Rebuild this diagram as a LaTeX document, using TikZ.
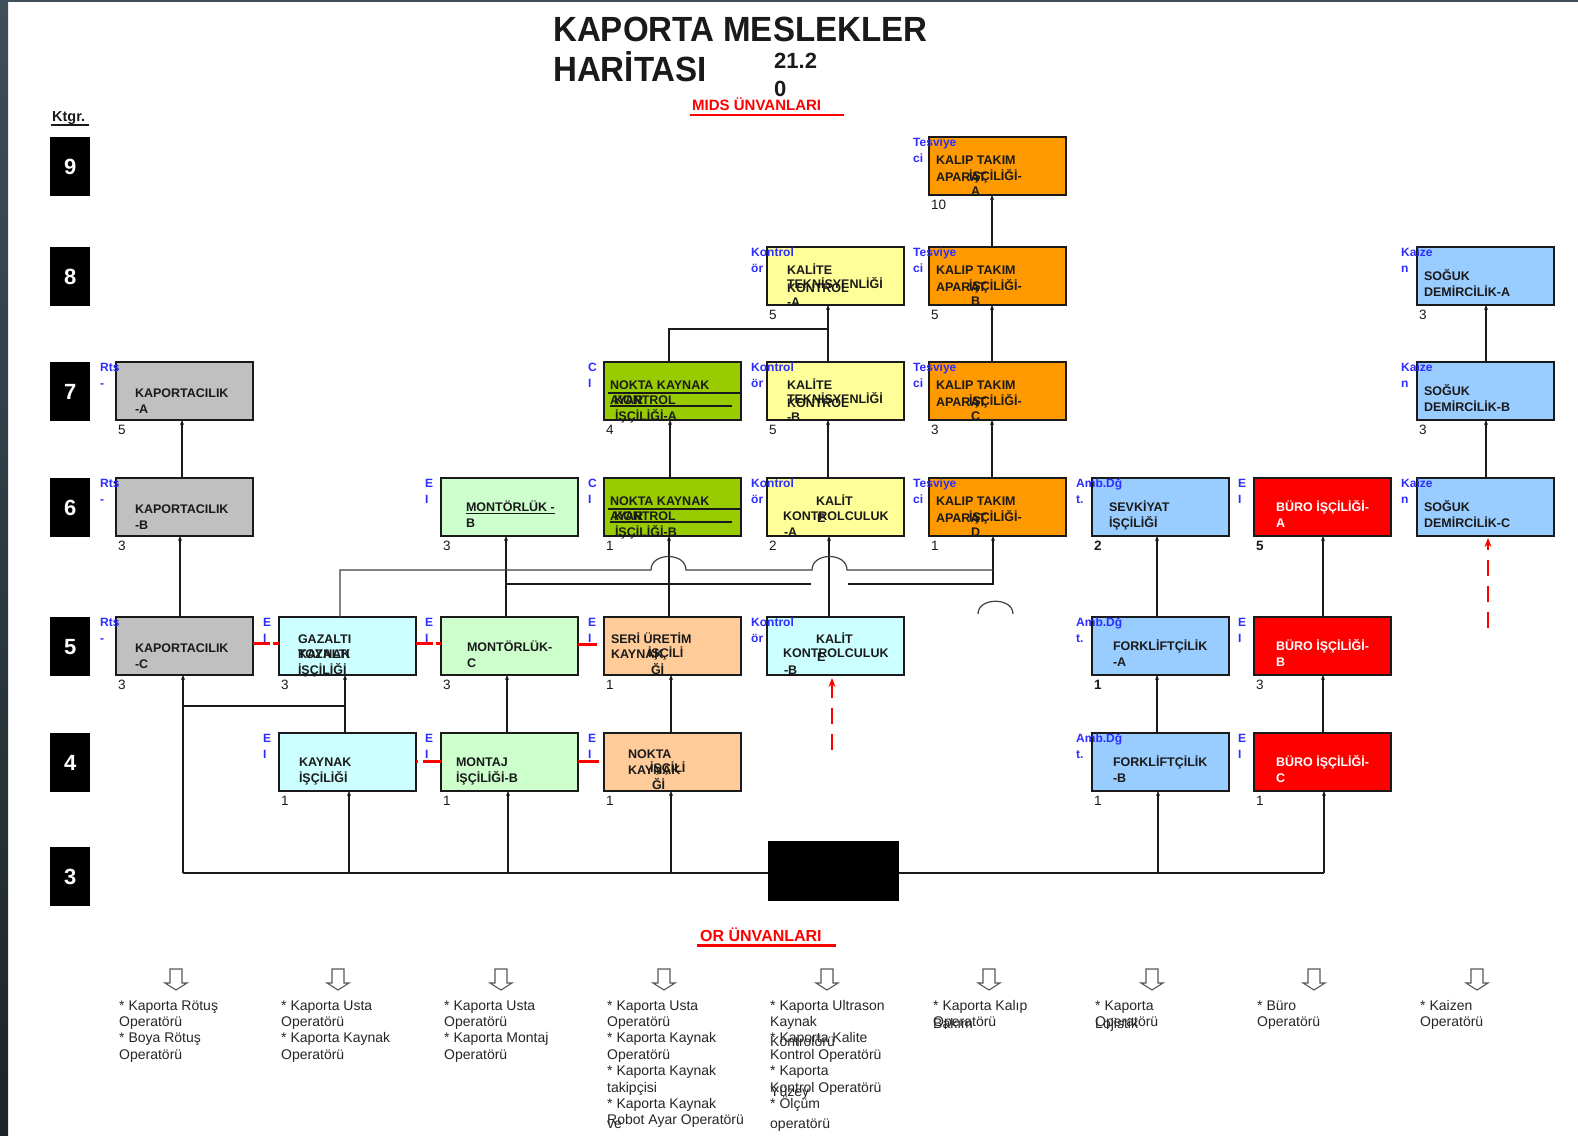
\documentclass[tikz,border=0pt]{standalone}
\usepackage{fontspec}
\usepackage{graphicx}
\setmainfont{Liberation Sans}
\usetikzlibrary{calc,arrows.meta}
\definecolor{cgray}{HTML}{C0C0C0}
\definecolor{ccyan}{HTML}{CCFFFF}
\definecolor{clgreen}{HTML}{CCFFCC}
\definecolor{cgreen}{HTML}{99CC00}
\definecolor{cpeach}{HTML}{FFCC99}
\definecolor{cyellow}{HTML}{FFFF99}
\definecolor{corange}{HTML}{FF9900}
\definecolor{cblue}{HTML}{99CCFF}
\definecolor{cred}{HTML}{FF0000}
\definecolor{lblue}{RGB}{45,45,255}
\definecolor{ink}{HTML}{1A1A1A}
\definecolor{frameA}{HTML}{3E4F5A}
\definecolor{frameB}{HTML}{1C2429}
\tikzset{
 box/.style={draw=ink, line width=1.5pt, minimum width=137pt, minimum height=58pt, inner sep=0pt, outer sep=0pt, anchor=north west},
 bt/.style={anchor=base west, inner sep=0pt, outer sep=0pt, font=\fontsize{12.5}{14}\selectfont\bfseries, text=ink},
 lb/.style={anchor=base west, inner sep=0pt, font=\fontsize{12}{13}\selectfont\bfseries, text=lblue},
 num/.style={anchor=base west, inner sep=0pt, font=\fontsize{13.5}{14}\selectfont, text=ink},
 conn/.style={draw=ink, line width=1.3pt},
 conntwo/.style={draw=black!75, line width=1.2pt},
 arr/.style={conn, -{Stealth[length=5pt,width=4pt]}},
 ulin/.style={draw=ink, line width=1.1pt},
 redln/.style={draw=red, line width=3pt},
 reddash/.style={draw=red, line width=2.8pt, dash pattern=on 16pt off 10pt, -{Stealth[length=9pt,width=7pt]}},
 cat/.style={fill=black, minimum width=40pt, minimum height=59pt, inner sep=0pt, anchor=north west, text=white, font=\fontsize{22}{24}\selectfont\bfseries},
 ot/.style={anchor=base west, inner sep=0pt, font=\fontsize{14}{16}\selectfont, text=black!85},
 hollowdown/.pic={\draw[draw=black!65, line width=1.1pt, fill=white] (-6,0) -- (-6,14) -- (-11,14) -- (0,21) -- (11,14) -- (6,14) -- (6,0) -- cycle;},
}
\newcounter{tbn}
\newcommand\tb[4][]{\stepcounter{tbn}\node[bt,#1] (tb\arabic{tbn}) at ($(#2.north west)+(#3)$) {#4};}
\newcommand\BX[7]{%
 \node[box,fill=#4] (#1) at (#2,#3) {};
 \node[lb] (#1la) at ($(#1.north west)+(-16,9.5)$) {#5};
 \node[lb] (#1lb) at ($(#1.north west)+(-16,25.5)$) {#6};
 \node[num] (#1nm) at ($(#1.south west)+(2,14.5)$) {#7};}
\newcounter{otn}
\newcommand\otl[3]{\stepcounter{otn}\node[ot] (ot\arabic{otn}) at ({#1},{1010+16.4*(#2-1)}) {#3};}
\begin{document}
\begin{tikzpicture}[x=1pt,y=-1pt]
\fill[white] (0,0) rectangle (1578,1135);
\useasboundingbox (0,0) rectangle (1578,1135);
\shade[top color=frameA, bottom color=frameB] (0,0) rectangle (8,1135);
\fill[frameA] (0,0) rectangle (1578,2);

% title
\node[anchor=base west, inner sep=0pt, font=\fontsize{35}{38}\selectfont\bfseries, text=ink] (title1) at (553,41) {\scalebox{0.945}[1]{KAPORTA MESLEKLER}};
\node[anchor=base west, inner sep=0pt, font=\fontsize{35}{38}\selectfont\bfseries, text=ink] (title2) at (553,81) {\scalebox{0.945}[1]{HARİTASI}};
\node[anchor=base west, inner sep=0pt, font=\fontsize{22}{24}\selectfont\bfseries, text=ink] (date1) at (774,68.5) {21.2};
\node[anchor=base west, inner sep=0pt, font=\fontsize{22}{24}\selectfont\bfseries, text=ink] (date2) at (774,96.5) {0};
\node[anchor=base west, inner sep=0pt, font=\fontsize{15}{16}\selectfont\bfseries, text=red] (mids) at (692,110) {MIDS ÜNVANLARI};
\draw[red, line width=2.5pt] ($(mids.base west)+(-2,5)$) -- ($(mids.base west)+(152,5)$);
\node[anchor=base west, inner sep=0pt, font=\fontsize{14.5}{16}\selectfont\bfseries, text=ink] (ktgr) at (52,121) {Ktgr.};
\draw[ink, line width=1.3pt] ($(ktgr.base west)+(-1,4)$) -- ($(ktgr.base west)+(37,4)$);

% category boxes
\node[cat] (k9) at (50,137) {9};
\node[cat] (k8) at (50,247) {8};
\node[cat] (k7) at (50,362) {7};
\node[cat] (k6) at (50,478) {6};
\node[cat] (k5) at (50,617) {5};
\node[cat] (k4) at (50,733) {4};
\node[cat] (k3) at (50,847) {3};

% boxes
\BX{kapA}{116}{362}{cgray}{Rts}{-}{5}
\BX{kapB}{116}{478}{cgray}{Rts}{-}{3}
\BX{kapC}{116}{617}{cgray}{Rts}{-}{3}
\BX{gaz}{279}{617}{ccyan}{E}{I}{3}
\BX{kayn}{279}{733}{ccyan}{E}{I}{1}
\BX{monB}{441}{478}{clgreen}{E}{I}{3}
\BX{monC}{441}{617}{clgreen}{E}{I}{3}
\BX{mtj}{441}{733}{clgreen}{E}{I}{1}
\BX{nkA}{604}{362}{cgreen}{C}{I}{4}
\BX{nkB}{604}{478}{cgreen}{C}{I}{1}
\BX{seri}{604}{617}{cpeach}{E}{I}{1}
\BX{nkk}{604}{733}{cpeach}{E}{I}{1}
\BX{ktA}{767}{247}{cyellow}{Kontrol}{ör}{5}
\BX{ktB}{767}{362}{cyellow}{Kontrol}{ör}{5}
\BX{kkA}{767}{478}{cyellow}{Kontrol}{ör}{2}
\BX{kkB}{767}{617}{ccyan}{Kontrol}{ör}{}
\BX{kpA}{929}{137}{corange}{Tesviye}{ci}{10}
\BX{kpB}{929}{247}{corange}{Tesviye}{ci}{5}
\BX{kpC}{929}{362}{corange}{Tesviye}{ci}{3}
\BX{kpD}{929}{478}{corange}{Tesviye}{ci}{1}
\BX{sev}{1092}{478}{cblue}{Amb.Dğ}{t.}{\bfseries 2}
\BX{frA}{1092}{617}{cblue}{Amb.Dğ}{t.}{\bfseries 1}
\BX{frB}{1092}{733}{cblue}{Amb.Dğ}{t.}{1}
\BX{brA}{1254}{478}{cred}{E}{I}{\bfseries 5}
\BX{brB}{1254}{617}{cred}{E}{I}{3}
\BX{brC}{1254}{733}{cred}{E}{I}{1}
\BX{sgA}{1417}{247}{cblue}{Kaize}{n}{3}
\BX{sgB}{1417}{362}{cblue}{Kaize}{n}{3}
\BX{sgC}{1417}{478}{cblue}{Kaize}{n}{}

% box texts
\tb{kapA}{19,35.5}{KAPORTACILIK}\tb{kapA}{19,51.5}{-A}
\tb{kapB}{19,35.5}{KAPORTACILIK}\tb{kapB}{19,51.5}{-B}
\tb{kapC}{19,35.5}{KAPORTACILIK}\tb{kapC}{19,51.5}{-C}
\tb{gaz}{19,26.5}{GAZALTI}\tb{gaz}{19,41.5}{TOZALTI}\tb{gaz}{19,41.5}{KAYNAK}\tb{gaz}{19,57.5}{İŞÇİLİĞİ}
\tb{kayn}{20,33.5}{KAYNAK}\tb{kayn}{20,49.5}{İŞÇİLİĞİ}
\tb{monB}{25,33.5}{\underline{MONTÖRLÜK -}}\tb{monB}{25,49.5}{B}
\tb{monC}{26,34.5}{MONTÖRLÜK-}\tb{monC}{26,50.5}{C}
\tb{mtj}{15,33.5}{MONTAJ}\tb{mtj}{15,49.5}{İŞÇİLİĞİ-B}
\tb{nkA}{6,27.5}{NOKTA KAYNAK}\tb{nkA}{6,42.5}{AYAR}\tb{nkA}{10,42.5}{KONTROL}\tb{nkA}{11,58.5}{İŞÇİLİĞİ-A}
\draw[ulin] ($(nkA.north west)+(4,31)$) -- ($(nkA.north east)+(-1,31)$);
\draw[ulin] ($(nkA.north west)+(6,44)$) -- ($(nkA.north west)+(128,44)$);
\tb{nkB}{6,27.5}{NOKTA KAYNAK}\tb{nkB}{6,42.5}{AYAR}\tb{nkB}{10,42.5}{KONTROL}\tb{nkB}{11,58.5}{İŞÇİLİĞİ-B}
\draw[ulin] ($(nkB.north west)+(4,31)$) -- ($(nkB.north east)+(-1,31)$);
\draw[ulin] ($(nkB.north west)+(6,44)$) -- ($(nkB.north west)+(128,44)$);
\tb{seri}{7,26.5}{SERİ ÜRETİM}\tb{seri}{7,41.5}{KAYNAK}\tb{seri}{44,40.5}{İŞÇİLİ}\tb{seri}{47,57.5}{Ğİ}
\tb{nkk}{24,25.5}{NOKTA}\tb{nkk}{24,41.5}{KAYNAK}\tb{nkk}{46,39.5}{İŞÇİLİ}\tb{nkk}{48,56.5}{Ğİ}
\tb{ktA}{20,27.5}{KALİTE}\tb{ktA}{20,41.5}{TEKNİSYENLİĞİ}\tb{ktA}{20,45.5}{KONTROL}\tb{ktA}{20,59.5}{-A}
\tb{ktB}{20,27.5}{KALİTE}\tb{ktB}{20,41.5}{TEKNİSYENLİĞİ}\tb{ktB}{20,45.5}{KONTROL}\tb{ktB}{20,59.5}{-B}
\tb{kkA}{49,27.5}{KALİT}\tb{kkA}{16,42.5}{KONTROLCULUK}\tb{kkA}{50,44.5}{E}\tb{kkA}{17,58.5}{-A}
\tb{kkB}{49,26.5}{KALİT}\tb{kkB}{16,40.5}{KONTROLCULUK}\tb{kkB}{50,44.5}{E}\tb{kkB}{17,57.5}{-B}
\tb{kpA}{7,27.5}{KALIP TAKIM}\tb{kpA}{7,44.5}{APARAT}\tb{kpA}{40,43}{İŞÇİLİĞİ-}\tb{kpA}{42,58.5}{A}
\tb{kpB}{7,27.5}{KALIP TAKIM}\tb{kpB}{7,44.5}{APARAT}\tb{kpB}{40,43}{İŞÇİLİĞİ-}\tb{kpB}{42,58.5}{B}
\tb{kpC}{7,27.5}{KALIP TAKIM}\tb{kpC}{7,44.5}{APARAT}\tb{kpC}{40,43}{İŞÇİLİĞİ-}\tb{kpC}{42,58.5}{C}
\tb{kpD}{7,27.5}{KALIP TAKIM}\tb{kpD}{7,44.5}{APARAT}\tb{kpD}{40,43}{İŞÇİLİĞİ-}\tb{kpD}{42,58.5}{D}
\tb{sev}{17,33.5}{SEVKİYAT}\tb{sev}{17,49.5}{İŞÇİLİĞİ}
\tb{frA}{21,33.5}{FORKLİFTÇİLİK}\tb{frA}{21,49.5}{-A}
\tb{frB}{21,33.5}{FORKLİFTÇİLİK}\tb{frB}{21,49.5}{-B}
\tb[text=white]{brA}{22,33.5}{BÜRO İŞÇİLİĞİ-}\tb[text=white]{brA}{22,49.5}{A}
\tb[text=white]{brB}{22,33.5}{BÜRO İŞÇİLİĞİ-}\tb[text=white]{brB}{22,49.5}{B}
\tb[text=white]{brC}{22,33.5}{BÜRO İŞÇİLİĞİ-}\tb[text=white]{brC}{22,49.5}{C}
\tb{sgA}{7,33.5}{SOĞUK}\tb{sgA}{7,49.5}{DEMİRCİLİK-A}
\tb{sgB}{7,33.5}{SOĞUK}\tb{sgB}{7,49.5}{DEMİRCİLİK-B}
\tb{sgC}{7,33.5}{SOĞUK}\tb{sgC}{7,49.5}{DEMİRCİLİK-C}

% bus and black block
\coordinate (busL) at (183,873);
\coordinate (busR) at (1324,873);
\draw[conn] (busL) -- (busR);
\node[fill=black, minimum width=131pt, minimum height=60pt, inner sep=0pt, anchor=north west] (blk) at (768,841) {};

% connectors, left part
\draw[arr] ($(kapC.north west)+(64,0)$) -- ($(kapB.south west)+(64,0)$);
\draw[arr] ($(kapB.north west)+(66,0)$) -- ($(kapA.south west)+(66,0)$);
\draw[arr] (busL) -- ($(kapC.south west)+(67,0)$);
\draw[conn] ($(kapC.south west)+(67,31)$) -- ($(gaz.south west)+(66,31)$);
\draw[arr] ($(kayn.north west)+(66,0)$) -- ($(gaz.south west)+(66,0)$);
\draw[arr] ($(kayn.south west)+(70,82)$) -- ($(kayn.south west)+(70,0)$);
\draw[arr] ($(mtj.south west)+(67,82)$) -- ($(mtj.south west)+(67,0)$);
\draw[arr] ($(nkk.south west)+(67,82)$) -- ($(nkk.south west)+(67,0)$);
\draw[arr] ($(frB.south west)+(66,82)$) -- ($(frB.south west)+(66,0)$);
\draw[arr] (busR) -- ($(brC.south west)+(70,0)$);
\draw[arr] ($(mtj.north west)+(66,0)$) -- ($(monC.south west)+(66,0)$);
\draw[arr] ($(monC.north west)+(65,0)$) -- ($(monB.south west)+(65,0)$);
\draw[arr] ($(nkk.north west)+(67,0)$) -- ($(seri.south west)+(67,0)$);
\draw[arr] ($(seri.north west)+(65,0)$) -- ($(nkB.south west)+(65,0)$);
\draw[arr] ($(nkB.north west)+(66,0)$) -- ($(nkA.south west)+(66,0)$);
\draw[conn] ($(nkA.north west)+(65,0)$) |- ($(ktB.north west)+(61,-33)$);
\draw[arr] ($(ktB.north west)+(61,0)$) -- ($(ktA.south west)+(61,0)$);
\draw[arr] ($(kkA.north west)+(61,0)$) -- ($(ktB.south west)+(61,0)$);
\draw[arr] ($(kkB.north west)+(62,0)$) -- ($(kkA.south west)+(62,0)$);
\draw[arr] ($(kpD.north west)+(63,0)$) -- ($(kpC.south west)+(63,0)$);
\draw[arr] ($(kpC.north west)+(63,0)$) -- ($(kpB.south west)+(63,0)$);
\draw[arr] ($(kpB.north west)+(63,0)$) -- ($(kpA.south west)+(63,0)$);
% long lines to KALIP-D
\draw[conn] ($(monC.north west)+(65,-33)$) -- ($(kkB.north west)+(44,-33)$);
\draw[arr] ($(kkB.north west)+(81,-33)$) -| ($(kpD.south west)+(64,0)$);
\draw[conntwo] ($(gaz.north west)+(61,0)$) -- (340,570) -- (651,570) .. controls (651,552) and (686,552) .. (686,570) -- (812,570) .. controls (812,552) and (847,552) .. (847,570) -- (993,570);
\draw[conntwo] (978,614) .. controls (978,597) and (1013,597) .. (1013,614);
% right part
\draw[arr] ($(frB.north west)+(65,0)$) -- ($(frA.south west)+(65,0)$);
\draw[arr] ($(frA.north west)+(65,0)$) -- ($(sev.south west)+(65,0)$);
\draw[arr] ($(brC.north west)+(69,0)$) -- ($(brB.south west)+(69,0)$);
\draw[arr] ($(brB.north west)+(69,0)$) -- ($(brA.south west)+(69,0)$);
\draw[arr] ($(sgC.north west)+(69,0)$) -- ($(sgB.south west)+(69,0)$);
\draw[arr] ($(sgB.north west)+(69,0)$) -- ($(sgA.south west)+(69,0)$);

% red links
\draw[redln, dash pattern=on 17pt off 3pt] ($(kapC.north east)+(0,26)$) -- ($(gaz.north west)+(0,26)$);
\draw[redln, dash pattern=on 17pt off 3pt] ($(gaz.north east)+(0,26)$) -- ($(monC.north west)+(0,26)$);
\draw[redln] ($(monC.north east)+(0,27)$) -- ($(seri.north west)+(-7,27)$);
\draw[redln, dash pattern=on 2pt off 5pt on 20pt off 0pt] ($(kayn.north east)+(0,28)$) -- ($(mtj.north west)+(0,28)$);
\draw[redln] ($(mtj.north east)+(0,28)$) -- ($(nkk.north west)+(-5,28)$);
\coordinate (rdA) at (1488,628);
\coordinate (rdB) at (832,750);
\draw[reddash] (rdA) -- ($(sgC.south west)+(71,2)$);
\draw[reddash] (rdB) -- ($(kkB.south west)+(65,3)$);

% OR titles
\node[anchor=base west, inner sep=0pt, font=\fontsize{16}{18}\selectfont\bfseries, text=red] (orun) at (700,941) {OR ÜNVANLARI};
\draw[red, line width=2.5pt] ($(orun.base west)+(-3,4.5)$) -- ($(orun.base west)+(136,4.5)$);

\foreach \cx in {176,338,501,664,827,989,1152,1314,1477} \pic at (\cx,969) {hollowdown};

\otl{119}{1}{* Kaporta Rötuş}\otl{119}{2}{Operatörü}\otl{119}{3}{* Boya Rötuş}\otl{119}{4}{Operatörü}
\otl{281}{1}{* Kaporta Usta}\otl{281}{2}{Operatörü}\otl{281}{3}{* Kaporta Kaynak}\otl{281}{4}{Operatörü}
\otl{444}{1}{* Kaporta Usta}\otl{444}{2}{Operatörü}\otl{444}{3}{* Kaporta Montaj}\otl{444}{4}{Operatörü}
\otl{607}{1}{* Kaporta Usta}\otl{607}{2}{Operatörü}\otl{607}{3}{* Kaporta Kaynak}\otl{607}{4}{Operatörü}
\otl{607}{5}{* Kaporta Kaynak}\otl{607}{6}{takipçisi}\otl{607}{7}{* Kaporta Kaynak}\otl{607}{8}{Robot Ayar Operatörü}\otl{607}{8.2}{ve}
\otl{770}{1}{* Kaporta Ultrason}\otl{770}{2}{Kaynak}\otl{770}{3}{* Kaporta Kalite}\otl{770}{3.25}{Kontrolörü}
\otl{770}{4}{Kontrol Operatörü}\otl{770}{5}{* Kaporta}\otl{770}{6}{Kontrol Operatörü}\otl{770}{6.25}{Yüzey}
\otl{770}{7}{* Ölçüm}\otl{770}{8.2}{operatörü}
\otl{933}{1}{* Kaporta Kalıp}\otl{933}{2}{Operatörü}\otl{933}{2.12}{Bakım}
\otl{1095}{1}{* Kaporta}\otl{1095}{2}{Operatörü}\otl{1095}{2.12}{Lojistik}
\otl{1257}{1}{* Büro}\otl{1257}{2}{Operatörü}
\otl{1420}{1}{* Kaizen}\otl{1420}{2}{Operatörü}
\end{tikzpicture}
\end{document}
